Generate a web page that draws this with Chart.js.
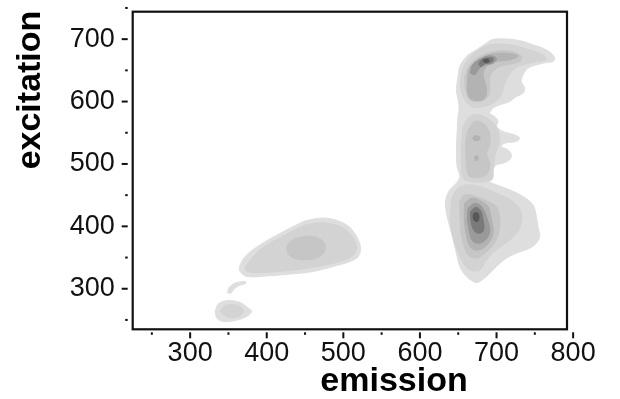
<!DOCTYPE html>
<html>
<head>
<meta charset="utf-8">
<script src="https://cdn.jsdelivr.net/npm/chart.js@4"></script>
<style>
  html, body { margin: 0; padding: 0; background: #fff; }
  canvas { display: block; }
</style>
</head>
<body>
<canvas id="eem" width="620" height="399"></canvas>
<script>
// axis ticks (nm)
const xTicks = [300, 400, 500, 600, 700, 800];
const xMinorTicks = [250, 350, 450, 550, 650, 750];
const yTicks = [300, 400, 500, 600, 700];
const yMinorTicks = [250, 350, 450, 550, 650, 750];

// grey for each contour level, lightest first
const levelGreys = ['#dedede', '#d3d3d3', '#c6c6c6', '#b3b3b3', '#9a9a9a', '#7a7a7a', '#575757'];

// contour outlines as [emission, excitation] pairs
const spotA1 = [[332.6,263.5],[336.9,275.8],[350.0,281.2],[365.2,277.9],[376.0,268.9],[380.4,263.5],[373.8,255.5],[358.6,249.1],[343.4,247.5],[334.8,252.8]];
const spotA2 = [[339.1,263.5],[345.6,272.6],[358.6,274.2],[369.5,266.2],[365.2,256.6],[350.0,254.4]];
const sliverB1 = [[348.6,293.9],[351.3,302.5],[358.6,308.9],[371.7,311.6],[373.0,308.9],[363.0,304.6],[356.5,298.2],[353.0,292.9]];

const peakC1 = [[364.3,335.6],[371.7,351.6],[391.3,370.4],[417.3,388.6],[439.0,402.4],[452.1,409.3],[478.2,413.1],[504.3,402.4],[517.3,383.7],[522.5,365.1],[519.4,351.6],[508.6,343.6],[486.8,335.6],[460.8,327.6],[434.7,323.9],[400.0,320.6],[374.0,319.6],[365.2,327.6]];
const peakC2 = [[373.8,338.3],[391.2,362.4],[421.7,384.8],[452.1,402.4],[478.2,405.1],[499.9,397.1],[513.0,381.0],[517.3,365.0],[510.7,351.7],[486.8,341.0],[452.1,333.0],[413.0,327.6],[382.5,326.0],[371.7,330.3]];
const peakC3 = [[426.0,365.0],[430.4,375.7],[443.4,382.6],[460.8,383.7],[473.8,375.7],[476.0,363.4],[469.5,351.7],[452.1,346.3],[434.7,349.0],[428.2,355.9]];

const bandD1 = [[671.5,310.0],[660.7,319.6],[652.0,335.6],[647.6,357.0],[643.3,378.4],[639.0,399.7],[634.6,421.1],[633.7,442.5],[639.0,458.5],[647.6,469.2],[652.0,479.9],[648.5,495.9],[647.6,522.6],[648.5,549.3],[649.8,576.0],[651.1,586.7],[649.8,602.7],[647.6,618.8],[649.8,640.1],[652.0,656.2],[660.7,672.2],[673.7,682.9],[686.8,693.6],[693.3,698.9],[708.5,700.5],[730.2,697.8],[747.6,690.9],[760.6,685.5],[771.5,677.5],[775.8,669.5],[773.7,664.2],[765.0,662.6],[752.0,658.8],[741.1,653.5],[734.6,642.8],[732.4,632.1],[736.8,621.4],[734.6,613.4],[725.9,608.1],[717.2,600.1],[704.2,594.7],[695.5,589.4],[691.1,581.4],[697.6,576.0],[702.0,568.0],[699.8,560.0],[708.5,552.0],[723.7,546.6],[730.2,541.3],[725.9,536.0],[710.7,533.3],[706.3,528.0],[715.0,522.6],[719.4,514.6],[717.2,506.6],[708.5,501.2],[699.8,498.6],[695.5,490.6],[695.5,479.9],[691.1,471.9],[699.8,466.5],[717.2,458.5],[734.6,447.8],[747.6,434.5],[752.0,415.8],[754.1,399.7],[756.3,383.7],[752.0,373.0],[743.3,365.0],[725.9,357.0],[712.9,349.0],[699.8,335.6],[686.8,319.6],[675.9,310.0]];

// lower lobe of the right band
const lowD2 = [[641.1,442.4],[647.7,458.5],[660.7,466.5],[678.1,463.8],[699.8,453.1],[721.6,439.7],[732.4,421.1],[730.2,397.0],[717.2,378.3],[699.8,362.3],[686.8,346.3],[678.1,330.2],[665.1,330.2],[654.2,346.3],[645.5,373.0],[639.8,405.0]];
const lowD3 = [[652.0,439.7],[658.5,450.4],[673.7,447.8],[688.9,439.7],[699.8,431.7],[704.2,410.4],[702.0,386.3],[695.5,370.3],[684.6,357.0],[673.7,349.0],[662.9,354.3],[656.4,373.0],[652.9,399.7]];
const lowD4 = [[658.5,437.1],[667.2,445.1],[678.1,441.4],[688.9,431.7],[693.3,410.4],[695.5,391.7],[691.1,375.6],[682.4,365.0],[671.6,362.3],[664.2,370.3],[659.8,391.7],[657.7,415.7]];
const lowD5 = [[662.9,429.1],[671.6,437.1],[680.3,431.7],[686.8,415.7],[691.1,394.3],[687.6,381.0],[678.1,373.0],[668.5,377.2],[664.2,394.3],[662.0,413.0]];
const lowD6 = [[665.9,423.7],[672.9,430.7],[679.0,425.3],[682.4,410.4],[683.3,394.3],[678.1,388.9],[671.6,391.7],[667.2,405.0]];
const lowD7 = [[670.3,421.1],[674.6,422.1],[677.2,415.7],[675.0,407.7],[671.1,409.3],[669.4,414.6]];

// middle column of the band
const midD2 = [[656.4,560.0],[665.1,576.0],[678.1,578.7],[691.1,570.7],[699.8,560.0],[704.2,538.6],[697.6,511.9],[695.5,490.5],[693.3,474.5],[658.5,474.5],[654.2,501.2],[654.2,533.3]];
const midD3 = [[662.9,554.6],[671.6,568.0],[682.4,565.3],[691.1,549.3],[690.3,527.9],[686.8,517.2],[691.1,501.2],[686.8,482.5],[665.1,479.9],[660.7,501.2],[659.8,533.3]];
const midD4a = [[668.7,541.3],[670.5,544.3],[673.7,545.3],[677.0,544.3],[678.7,541.3],[677.0,538.3],[673.7,537.3],[670.5,538.3]];
const midD4b = [[671.2,509.2],[672.0,512.2],[673.7,513.2],[675.4,512.2],[676.2,509.2],[675.4,506.2],[673.7,505.2],[672.0,506.2]];

// upper arm of the band
const topD2 = [[654.2,645.5],[660.7,664.2],[673.7,680.2],[691.1,690.9],[717.2,690.9],[743.3,682.9],[760.7,674.8],[765.0,666.8],[752.0,664.2],[734.6,658.8],[721.6,650.8],[710.7,629.4],[706.3,610.7],[695.5,597.4],[682.4,592.0],[667.2,592.0],[656.4,608.1],[652.9,626.8]];
const topD3 = [[658.5,640.1],[665.1,658.8],[678.1,672.2],[697.6,680.2],[719.4,680.2],[732.4,672.2],[730.2,664.2],[712.9,658.8],[699.8,653.5],[691.1,640.1],[691.1,618.7],[686.8,605.4],[678.1,600.1],[665.1,602.7],[659.8,618.7]];
const topD4 = [[661.6,621.4],[664.2,650.8],[673.7,664.2],[689.0,674.8],[712.9,677.5],[728.1,673.2],[717.2,666.8],[699.8,664.2],[686.8,656.1],[682.4,642.8],[686.8,621.4],[684.6,605.4],[675.9,601.7],[665.1,605.4]];
const topD5 = [[665.9,645.5],[668.5,658.8],[678.1,667.9],[691.1,673.2],[699.8,669.5],[695.5,661.5],[684.6,658.8],[675.9,650.8],[671.6,642.8]];
const topD6 = [[678.1,664.2],[684.6,669.5],[695.5,669.5],[693.3,663.1],[684.6,660.4],[680.3,656.1],[677.2,658.8]];
const topD7 = [[682.4,666.8],[689.0,667.9],[690.3,664.2],[684.6,662.6]];

// [level, outline] lightest first
const contours = [
  [1, spotA1], [2, spotA2], [1, sliverB1],
  [1, peakC1], [2, peakC2], [3, peakC3],
  [1, bandD1],
  [2, lowD2], [3, lowD3], [4, lowD4], [5, lowD5], [6, lowD6], [7, lowD7],
  [2, midD2], [3, midD3], [4, midD4a], [4, midD4b],
  [2, topD2], [3, topD3], [4, topD4], [5, topD5], [6, topD6], [7, topD7]
];

const datasets = contours.map(([level, pts]) => {
  const grey = levelGreys[level - 1];
  const data = pts.map(p => ({ x: p[0], y: p[1] }));
  data.push({ x: pts[0][0], y: pts[0][1] });
  return {
    data: data,
    showLine: true,
    fill: 'shape',
    backgroundColor: grey,
    borderColor: grey,
    borderWidth: 1,
    tension: 0.35,
    pointRadius: 0,
    pointHoverRadius: 0
  };
}).reverse(); // first dataset is painted last

const tickFont = { family: '"Liberation Sans", Arial, sans-serif', size: 27 };

const framePlugin = {
  id: 'frame',
  afterDraw(chart) {
    const { ctx, chartArea: a, scales: { x, y } } = chart;
    ctx.save();
    ctx.strokeStyle = '#111';
    ctx.lineWidth = 2.2;
    ctx.strokeRect(a.left, a.top, a.right - a.left, a.bottom - a.top);

    ctx.fillStyle = '#111';
    yTicks.forEach(v => {
      const py = y.getPixelForValue(v);
      ctx.fillRect(a.left - 11, py - 1, 6, 2);
    });
    yMinorTicks.forEach(v => {
      const py = y.getPixelForValue(v);
      ctx.fillRect(a.left - 7.5, py - 1, 2.5, 2);
    });
    xTicks.forEach(v => {
      const px = x.getPixelForValue(v);
      ctx.fillRect(px - 1, a.bottom + 3, 2, 6);
    });
    xMinorTicks.forEach(v => {
      const px = x.getPixelForValue(v);
      ctx.fillRect(px - 1, a.bottom + 3, 2, 2.5);
    });

    // axis titles
    ctx.fillStyle = '#000';
    ctx.font = 'bold 34px "Liberation Sans", Arial, sans-serif';
    ctx.textAlign = 'center';
    ctx.textBaseline = 'middle';
    ctx.fillText('emission', 394, 382);
    ctx.translate(31, 90);
    ctx.rotate(-Math.PI / 2);
    ctx.fillText('excitation', 0, 0);
    ctx.restore();
  }
};

new Chart(document.getElementById('eem'), {
  type: 'scatter',
  data: { datasets: datasets },
  options: {
    responsive: false,
    animation: false,
    events: [],
    layout: { padding: { top: 11.7, right: 53, left: 0, bottom: 0 } },
    plugins: { legend: { display: false }, tooltip: { enabled: false } },
    scales: {
      x: {
        type: 'linear',
        min: 225,
        max: 792,
        grid: { display: false, drawTicks: false, tickLength: 0 },
        border: { display: false },
        ticks: { font: tickFont, color: '#111', padding: 8, autoSkip: false, maxRotation: 0 },
        afterBuildTicks: (scale) => { scale.ticks = xTicks.map(v => ({ value: v })); },
        afterFit: (scale) => { scale.height = 69.7; scale.paddingLeft = 0; scale.paddingRight = 0; }
      },
      y: {
        type: 'linear',
        min: 235,
        max: 744,
        grid: { display: false, drawTicks: false, tickLength: 0 },
        border: { display: false },
        ticks: { font: tickFont, color: '#111', padding: 18, autoSkip: false },
        afterBuildTicks: (scale) => { scale.ticks = yTicks.map(v => ({ value: v })); },
        afterFit: (scale) => { scale.width = 132.7; scale.paddingTop = 0; scale.paddingBottom = 0; }
      }
    }
  },
  plugins: [framePlugin]
});
</script>
</body>
</html>
